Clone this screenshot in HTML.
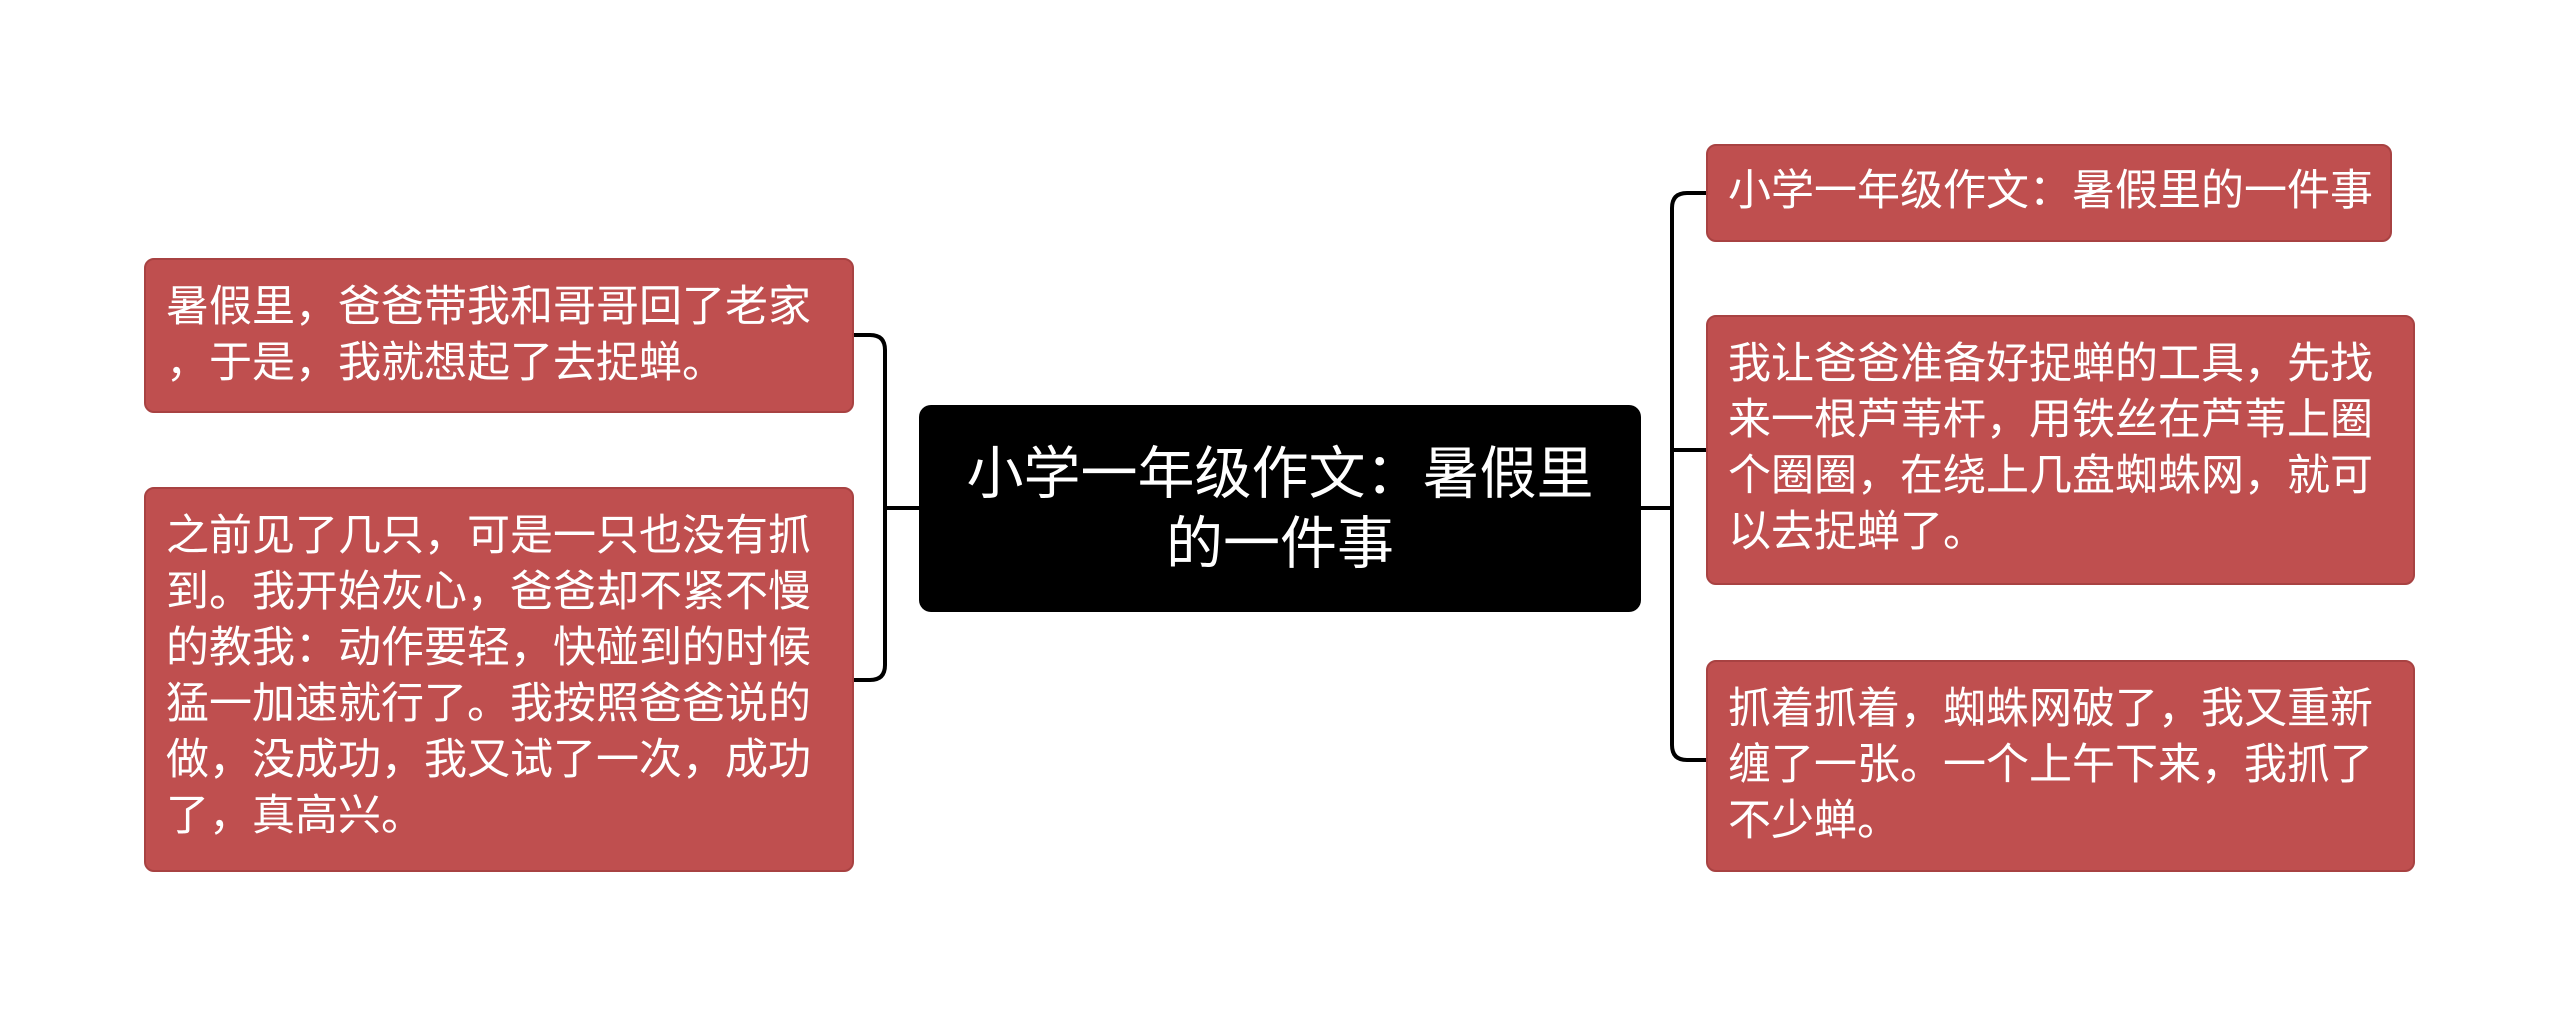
<!DOCTYPE html>
<html><head><meta charset="utf-8"><style>
body{margin:0;width:2560px;height:1017px;background:#fff;position:relative;overflow:hidden;font-family:"Liberation Sans","Noto Sans CJK SC",sans-serif;}
.b{position:absolute;background:#bf4f4f;border:2px solid #a84242;border-radius:10px;color:#fff;font-size:43px;line-height:56px;box-sizing:border-box;padding:19px 20px;}
.c{position:absolute;left:919px;top:405px;width:722px;height:207px;background:#000;border-radius:12px;color:#fff;font-size:57px;line-height:70px;text-align:center;box-sizing:border-box;padding:0 40px;display:flex;align-items:center;justify-content:center;}
</style></head><body>
<svg width="2560" height="1017" style="position:absolute;left:0;top:0">
<g fill="none" stroke="#000" stroke-width="4">
<path d="M919 508 H885"/>
<path d="M854 335 H870 Q885 335 885 350 V665 Q885 680 870 680 H854"/>
<path d="M1641 508 H1672"/>
<path d="M1706 193 H1687 Q1672 193 1672 208 V745 Q1672 760 1687 760 H1706"/>
<path d="M1672 450 H1706"/>
</g></svg>
<div class="c"><div>小学一年级作文：暑假里<br>的一件事</div></div>
<div class="b" style="left:144px;top:258px;width:710px;height:155px">暑假里，爸爸带我和哥哥回了老家<br>，于是，我就想起了去捉蝉。</div>
<div class="b" style="left:144px;top:487px;width:710px;height:385px">之前见了几只，可是一只也没有抓<br>到。我开始灰心，爸爸却不紧不慢<br>的教我：动作要轻，快碰到的时候<br>猛一加速就行了。我按照爸爸说的<br>做，没成功，我又试了一次，成功<br>了，真高兴。</div>
<div class="b" style="left:1706px;top:144px;width:686px;height:98px;white-space:nowrap;padding-top:17px">小学一年级作文：暑假里的一件事</div>
<div class="b" style="left:1706px;top:315px;width:709px;height:270px">我让爸爸准备好捉蝉的工具，先找<br>来一根芦苇杆，用铁丝在芦苇上圈<br>个圈圈，在绕上几盘蜘蛛网，就可<br>以去捉蝉了。</div>
<div class="b" style="left:1706px;top:660px;width:709px;height:212px">抓着抓着，蜘蛛网破了，我又重新<br>缠了一张。一个上午下来，我抓了<br>不少蝉。</div>
</body></html>
